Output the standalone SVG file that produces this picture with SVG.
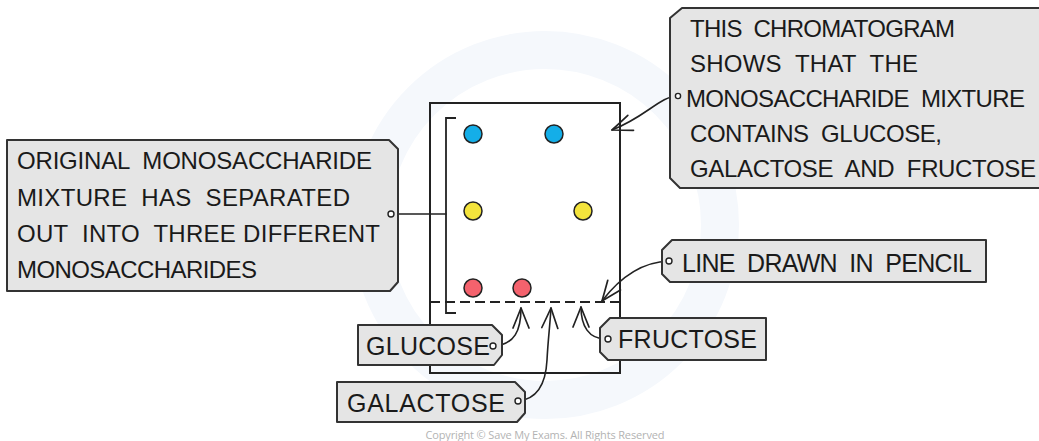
<svg xmlns="http://www.w3.org/2000/svg" width="1039" height="441" viewBox="0 0 1039 441" xml:space="preserve">
  <style>
    .label { fill: #e5e5e5; stroke: #333; stroke-width: 2; stroke-linejoin: round; }
    .txt { font-family: "Liberation Sans", Arial, sans-serif; font-size: 24px; fill: #1a1a1a; white-space: pre; }
    .big { font-size: 25px; }
    .wire { fill: none; stroke: #222; stroke-width: 1.6; stroke-linecap: round; }
    .pin { fill: #fff; stroke: #222; stroke-width: 1.4; }
    .spot { stroke: #222; stroke-width: 1.5; }
  </style>
  <defs>
    <marker id="open" viewBox="-22 -11 24 22" refX="0" refY="0" markerWidth="24" markerHeight="22" orient="auto" markerUnits="userSpaceOnUse">
      <path d="M-20,-8 Q-9,-3.5 0,0 Q-9,3.5 -20,8" fill="none" stroke="#222" stroke-width="1.7" stroke-linecap="round" stroke-linejoin="round"/>
    </marker>
  </defs>

  <rect width="1039" height="441" fill="#fff"/>

  <!-- faint background emblem -->
  <g id="emblem" fill="none" stroke="#f5f8fc">
    <circle cx="545" cy="225" r="175" stroke-width="38"/>
  </g>

  <!-- chromatography paper -->
  <g id="paper">
    <rect x="430" y="103" width="190" height="270" fill="none" stroke="#222" stroke-width="2"/>
    <line x1="430" y1="302" x2="620" y2="302" stroke="#222" stroke-width="1.8" stroke-dasharray="10 5"/>
    <path d="M456,118 H446 V313 H456" fill="none" stroke="#222" stroke-width="1.8"/>
  </g>

  <!-- separated spots -->
  <g id="spots" class="spot">
    <circle cx="473" cy="134" r="9" fill="#14aee8"/>
    <circle cx="554" cy="134" r="9" fill="#14aee8"/>
    <circle cx="473" cy="211" r="9" fill="#f4e43c"/>
    <circle cx="583" cy="211" r="9" fill="#f4e43c"/>
    <circle cx="473" cy="288" r="9" fill="#f4626d"/>
    <circle cx="522" cy="288" r="9" fill="#f4626d"/>
  </g>

  <!-- connectors -->
  <g id="connectors">
    <path class="wire" d="M391,214 H446"/>
    <path class="wire" d="M678,96 C660,96 646,117 612,130" marker-end="url(#open)"/>
    <path class="wire" d="M669,261 C640,262 618,280 602,301" marker-end="url(#open)"/>
    <path class="wire" d="M493,346 C515,345 521,330 521,308" marker-end="url(#open)"/>
    <path class="wire" d="M518,401 C540,399 546,380 547,360 C548,340 550,325 551,308" marker-end="url(#open)"/>
    <path class="wire" d="M608,339 C588,340 581,325 581,307" marker-end="url(#open)"/>
  </g>

  <g id="note-separated">
    <path class="label" d="M7,140 H389 L398,149 V282 L390,291 H7 Z"/>
    <text class="txt" x="17" y="169" textLength="355">ORIGINAL  MONOSACCHARIDE</text>
    <text class="txt" x="17" y="206" textLength="333">MIXTURE  HAS  SEPARATED</text>
    <text class="txt" x="17" y="242" textLength="363">OUT  INTO  THREE DIFFERENT</text>
    <text class="txt" x="17" y="278" textLength="240">MONOSACCHARIDES</text>
    <circle class="pin" cx="391" cy="214" r="3"/>
  </g>

  <g id="note-chromatogram">
    <path class="label" d="M682,8 H1045 V188 H680 L670,178 V18 Z"/>
    <text class="txt" x="690" y="37" textLength="265">THIS  CHROMATOGRAM</text>
    <text class="txt" x="690" y="72" textLength="228">SHOWS  THAT  THE</text>
    <text class="txt" x="686" y="107" textLength="339">MONOSACCHARIDE  MIXTURE</text>
    <text class="txt" x="690" y="142" textLength="252">CONTAINS  GLUCOSE,</text>
    <text class="txt" x="690" y="177" textLength="346">GALACTOSE  AND  FRUCTOSE</text>
    <circle class="pin" cx="678" cy="96" r="2.6"/>
  </g>

  <g id="note-pencil">
    <path class="label" d="M672,240 H986 V282 H670 L662,274 V250 Z"/>
    <text class="txt big" x="682" y="272" textLength="290">LINE  DRAWN  IN  PENCIL</text>
    <circle class="pin" cx="669" cy="261" r="3"/>
  </g>

  <g id="note-glucose">
    <path class="label" d="M358,325 H492 L502,335 V355 L494,365 H358 Z"/>
    <text class="txt big" x="366" y="355" textLength="124">GLUCOSE</text>
    <circle class="pin" cx="493" cy="346" r="3"/>
  </g>

  <g id="note-galactose">
    <path class="label" d="M337,382 H515 L525,392 V413 L517,422 H337 Z"/>
    <text class="txt big" x="347" y="412" textLength="158">GALACTOSE</text>
    <circle class="pin" cx="518" cy="401" r="3"/>
  </g>

  <g id="note-fructose">
    <path class="label" d="M610,318 H766 V360 H608 L600,352 V328 Z"/>
    <text class="txt big" x="618" y="348" textLength="139">FRUCTOSE</text>
    <circle class="pin" cx="608" cy="339" r="3"/>
  </g>

  <text x="545" y="439" text-anchor="middle" font-family="'Open Sans', 'Liberation Sans', sans-serif" font-size="11" fill="#b3b3b3" textLength="239">Copyright © Save My Exams. All Rights Reserved</text>
</svg>
